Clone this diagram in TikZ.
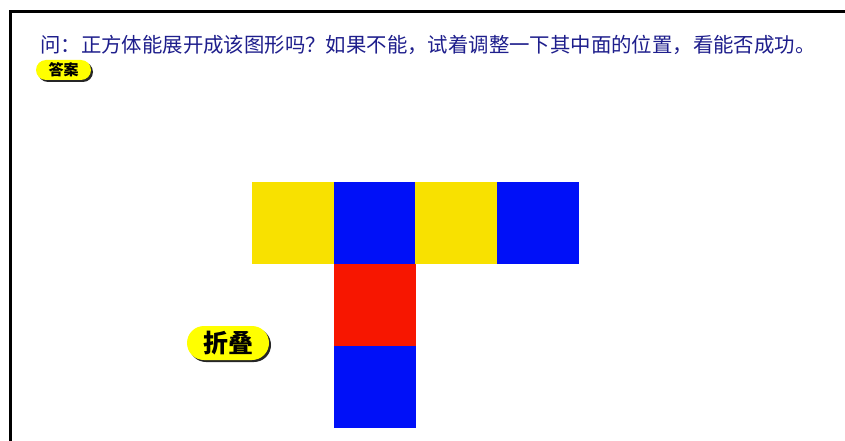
\documentclass[tikz,border=0pt]{standalone}
\usepackage{fontspec}
\newfontfamily\cjk{Noto Sans CJK SC}
\usepackage{tikz}
\usetikzlibrary{positioning,shapes.misc,shadows}
\definecolor{cubeyellow}{RGB}{248,225,0}
\definecolor{cubeblue}{RGB}{0,16,248}
\definecolor{cubered}{RGB}{247,22,0}
\definecolor{inkblue}{RGB}{30,30,140}
\definecolor{btnyellow}{RGB}{255,255,0}
\tikzset{
  face/.style={inner sep=0pt,outer sep=0pt,minimum size=82pt},
  btn/.style={rounded rectangle,fill=btnyellow,inner sep=0pt,
    drop shadow={shadow xshift=2pt,shadow yshift=-2pt,fill=black!85,opacity=1}},
  qtext/.style={font=\cjk\fontsize{20.4}{22}\selectfont,text=inkblue,inner sep=0pt}
}
\begin{document}
\begin{tikzpicture}[x=1pt,y=-1pt]
      \useasboundingbox[fill=white] (0,0) rectangle (845,441);
      % frame
      \draw[line width=3pt] (10,441) -- (10,12) -- (845,12);
      \node[qtext,anchor=west] (q) at (40,45) {问：正方体能展开成该图形吗？如果不能，试着调整一下其中面的位置，看能否成功。};
      \node[btn,minimum width=55pt,minimum height=20pt,font=\cjk\bfseries\fontsize{15}{15}\selectfont] (ans) at (63.5,70) {答案};
      \node[btn,minimum width=82pt,minimum height=34pt,font=\cjk\bfseries\fontsize{25}{25}\selectfont] (fold) at (228,343) {折叠};
      % net of the cube
      \node[face,fill=cubeyellow] (y1) at (293,222.5) {};
      \node[face,fill=cubeblue,right=-0.5pt of y1] (b1) {};
      \node[face,fill=cubeyellow,right=-0.5pt of b1] (y2) {};
      \node[face,fill=cubeblue,right=-0.5pt of y2] (b2) {};
      \node[face,fill=cubered,below=0pt of b1] (r1) {};
      \node[face,fill=cubeblue,below=0pt of r1] (b3) {};
\end{tikzpicture}
\end{document}
